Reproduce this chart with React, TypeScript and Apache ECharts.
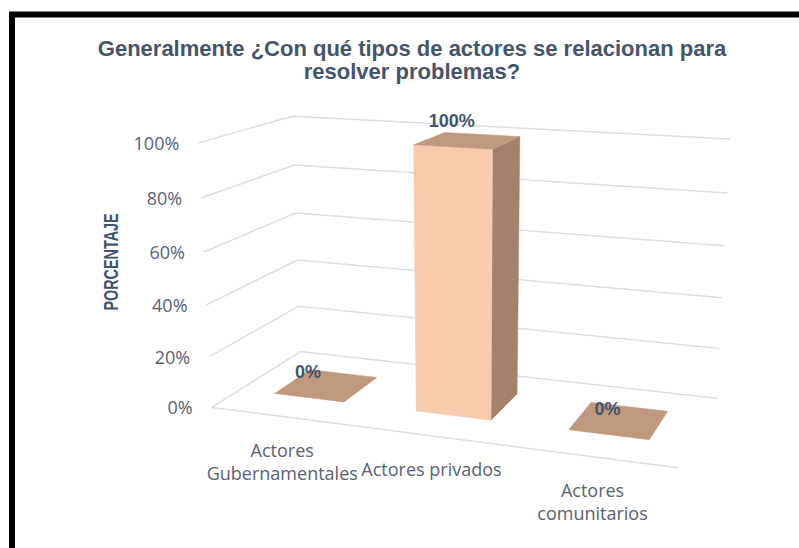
import React, { useEffect, useRef } from 'react';
import * as echarts from 'echarts';

// ---------- data ----------
const chartTitle = 'Generalmente ¿Con qué tipos de actores se relacionan para\nresolver problemas?';
const categories = ['Actores\nGubernamentales', 'Actores privados', 'Actores\ncomunitarios'];
const values = [0, 100, 0];
const yTicks = [0, 20, 40, 60, 80, 100];
const yTickLabels = ['0%', '20%', '40%', '60%', '80%', '100%'];
const dataLabels = ['0%', '100%', '0%'];
const yAxisName = 'PORCENTAJE';

// ---------- layout of the 3D frame (unit box corner -> screen) ----------
const FRAME: [number[], number[]][] = [
  [[0, 0, 0], [212, 407]],
  [[0, 0, 1], [300, 352]],
  [[1, 0, 1], [717, 398]],
  [[1, 0, 0], [678, 468]],
  [[0, 1, 0], [198, 143]],
  [[0, 1, 1], [293, 116]],
  [[1, 1, 1], [730, 139]],
];
const BAR_RATIO = 0.5; // bar width / category band
const Z_FRONT = 0.3;
const Z_BACK = 0.72;

const TEXT2 = '#44546A';
const LABEL = '#596273';
const GRID = '#D9DEE6';
const FRONT = '#F8CBAD';
const SIDE = '#A3826B';
const TOP = '#BF9880';

function gauss(M: number[][]): number[] {
  const n = M.length;
  for (let c = 0; c < n; c++) {
    let piv = c;
    for (let r = c + 1; r < n; r++) if (Math.abs(M[r][c]) > Math.abs(M[piv][c])) piv = r;
    const t = M[c]; M[c] = M[piv]; M[piv] = t;
    for (let r = 0; r < n; r++) {
      if (r === c) continue;
      const f = M[r][c] / M[c][c];
      for (let k = c; k <= n; k++) M[r][k] -= f * M[c][k];
    }
  }
  return M.map((row, i) => row[n] / row[i]);
}

function buildProjection() {
  const S = 400, OX = 400, OY = 300;
  const rows: number[][] = [];
  const rhs: number[] = [];
  for (const [[X, Y, Z], [sx, sy]] of FRAME) {
    const x = (sx - OX) / S, y = (sy - OY) / S;
    rows.push([X, Y, Z, 1, 0, 0, 0, 0, -x * X, -x * Y, -x * Z]); rhs.push(x);
    rows.push([0, 0, 0, 0, X, Y, Z, 1, -y * X, -y * Y, -y * Z]); rhs.push(y);
  }
  const n = 11;
  const M: number[][] = [];
  for (let i = 0; i < n; i++) {
    const row = new Array(n + 1).fill(0);
    for (let r = 0; r < rows.length; r++) {
      for (let j = 0; j < n; j++) row[j] += rows[r][i] * rows[r][j];
      row[n] += rows[r][i] * rhs[r];
    }
    M.push(row);
  }
  const p = gauss(M);
  return (X: number, Y: number, Z: number): number[] => {
    const w = p[8] * X + p[9] * Y + p[10] * Z + 1;
    const x = (p[0] * X + p[1] * Y + p[2] * Z + p[3]) / w;
    const y = (p[4] * X + p[5] * Y + p[6] * Z + p[7]) / w;
    return [x * S + OX, y * S + OY];
  };
}

const proj = buildProjection();

function norm(cs: any, pt: number[]) {
  return [(pt[0] - cs.x) / cs.width, (cs.y + cs.height - pt[1]) / cs.height];
}

export default function App() {
  const ref = useRef<HTMLDivElement>(null);
  useEffect(() => {
    if (!ref.current) return;
    const chart = echarts.init(ref.current, undefined, { renderer: 'svg' });
    const option: any = {
      animation: false,
      backgroundColor: '#ffffff',
      title: {
        text: chartTitle,
        left: 407,
        textAlign: 'center',
        top: 32,
        textStyle: {
          fontFamily: '"Liberation Sans", Arial, sans-serif',
          fontWeight: 'bold',
          fontSize: 22,
          lineHeight: 23,
          color: TEXT2,
        },
      },
      grid: { left: 100, right: 100, top: 100, bottom: 100, show: false },
      xAxis: { type: 'category', data: categories, show: false },
      yAxis: { type: 'value', min: 0, max: 100, interval: 20, show: false },
      graphic: [
        {
          type: 'rect',
          shape: { x: 12, y: 14.5, width: 1000, height: 1000 },
          style: { fill: 'none', stroke: '#000000', lineWidth: 6 },
          z: 100,
        },
        {
          type: 'text',
          x: 111,
          y: 262,
          rotation: Math.PI / 2,
          scaleX: 0.72,
          style: {
            text: yAxisName,
            font: 'bold 20px "Liberation Sans", Arial, sans-serif',
            fill: TEXT2,
            align: 'center',
            verticalAlign: 'middle',
            textAlign: 'center',
            textVerticalAlign: 'middle',
          },
        },
      ],
      series: [
        {
          type: 'custom',
          name: 'grid3d',
          coordinateSystem: 'cartesian2d',
          data: yTicks.map((t) => [0, t]),
          z: 1,
          renderItem: (params: any, api: any) => {
            const cs = params.coordSys;
            const t = api.value(1);
            const Y = norm(cs, api.coord([0, t]))[1];
            const children: any[] = [];
            children.push({
              type: 'polyline',
              shape: { points: [proj(0, Y, 0), proj(0, Y, 1), proj(1, Y, 1)] },
              style: { stroke: GRID, lineWidth: 1.5, fill: 'none' },
            });
            if (Y < 1e-6) {
              children.push({
                type: 'polyline',
                shape: { points: [proj(0, 0, 0), proj(1, 0, 0)] },
                style: { stroke: GRID, lineWidth: 1.5, fill: 'none' },
              });
            }
            const a = proj(0, Y, 0);
            children.push({
              type: 'text',
              x: a[0] - 19,
              y: a[1],
              style: {
                text: yTickLabels[params.dataIndex],
                font: '18px "Open Sans", sans-serif',
                fill: LABEL,
                textAlign: 'right',
                textVerticalAlign: 'middle',
              },
            });
            return { type: 'group', children };
          },
        },
        {
          type: 'custom',
          name: 'bars3d',
          coordinateSystem: 'cartesian2d',
          data: values.map((v, i) => [i, v]),
          z: 2,
          renderItem: (params: any, api: any) => {
            const cs = params.coordSys;
            const i = api.value(0);
            const v = api.value(1);
            const [Xc, Yt] = norm(cs, api.coord([i, v]));
            const hw = (api.size([1, 0])[0] / cs.width) * BAR_RATIO / 2;
            const x0 = Xc - hw, x1 = Xc + hw;
            const zf = Z_FRONT, zb = Z_BACK;
            const children: any[] = [];
            if (Yt > 1e-6) {
              children.push({
                type: 'polygon',
                shape: { points: [proj(x1, 0, zf), proj(x1, 0, zb), proj(x1, Yt, zb), proj(x1, Yt, zf)] },
                style: { fill: SIDE, stroke: SIDE, lineWidth: 0.5 },
              });
              children.push({
                type: 'polygon',
                shape: { points: [proj(x0, 0, zf), proj(x1, 0, zf), proj(x1, Yt, zf), proj(x0, Yt, zf)] },
                style: { fill: FRONT, stroke: FRONT, lineWidth: 0.5 },
              });
            }
            children.push({
              type: 'polygon',
              shape: { points: [proj(x0, Yt, zf), proj(x1, Yt, zf), proj(x1, Yt, zb), proj(x0, Yt, zb)] },
              style: { fill: TOP, stroke: TOP, lineWidth: 0.5 },
            });
            const lp = proj(Xc, Yt, zf);
            children.push({
              type: 'text',
              x: lp[0] - 1,
              y: lp[1] - 26,
              style: {
                text: dataLabels[params.dataIndex],
                font: 'bold 18px "Liberation Sans", Arial, sans-serif',
                fill: TEXT2,
                textAlign: 'center',
                textVerticalAlign: 'middle',
              },
            });
            const cp = proj(Xc, 0, 0);
            children.push({
              type: 'text',
              x: cp[0],
              y: cp[1] + 22,
              style: {
                text: categories[params.dataIndex],
                font: '18px "Open Sans", sans-serif',
                fill: LABEL,
                lineHeight: 23,
                textAlign: 'center',
                textVerticalAlign: 'top',
              },
            });
            return { type: 'group', children };
          },
        },
      ],
    };
    chart.setOption(option);
    return () => chart.dispose();
  }, []);
  return (
    <div
      ref={ref}
      style={{ position: 'fixed', left: 0, top: 0, width: 799, height: 548, background: '#fff' }}
    />
  );
}
